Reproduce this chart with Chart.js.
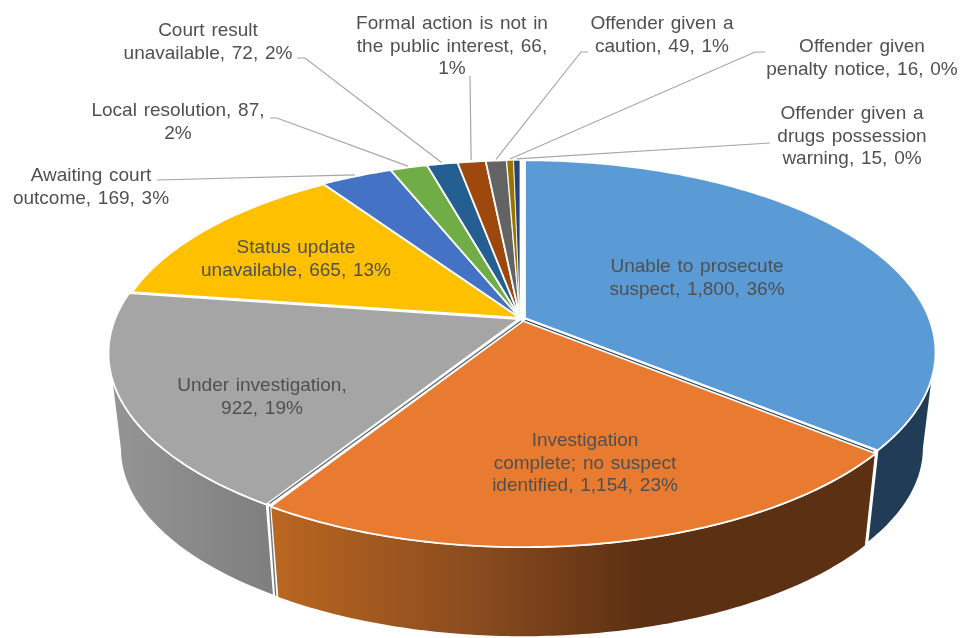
<!DOCTYPE html>
<html>
<head>
<meta charset="utf-8">
<style>
  html, body { margin: 0; padding: 0; background: #fff; }
  canvas { display: block; }
</style>
<script src="https://cdn.jsdelivr.net/npm/chart.js@4"></script>
</head>
<body>
<canvas id="outcomePie" width="962" height="638"></canvas>
<script>
const categories = [
  'Unable to prosecute suspect', 'Investigation complete; no suspect identified',
  'Under investigation', 'Status update unavailable', 'Awaiting court outcome',
  'Local resolution', 'Court result unavailable', 'Formal action is not in the public interest',
  'Offender given a caution', 'Offender given penalty notice', 'Offender given a drugs possession warning'
];
const values = [1800, 1154, 922, 665, 169, 87, 72, 66, 49, 16, 15];
const sliceColors = ['#5B9BD5', '#E97B30', '#A5A5A5', '#FFC000', '#4472C4', '#70AD47', '#255E91', '#9E480E', '#636363', '#997300', '#264478'];
const labelLines = [
  ['Unable to prosecute', 'suspect, 1,800, 36%'],
  ['Investigation', 'complete; no suspect', 'identified, 1,154, 23%'],
  ['Under investigation,', '922, 19%'],
  ['Status update', 'unavailable, 665, 13%'],
  ['Awaiting court', 'outcome, 169, 3%'],
  ['Local resolution, 87,', '2%'],
  ['Court result', 'unavailable, 72, 2%'],
  ['Formal action is not in', 'the public interest, 66,', '1%'],
  ['Offender given a', 'caution, 49, 1%'],
  ['Offender given', 'penalty notice, 16, 0%'],
  ['Offender given a', 'drugs possession', 'warning, 15, 0%']
];

// layout only: label centre x, first line y
const labelSpots = [[697, 267], [585, 441], [262, 386], [296, 248], [91, 176], [178, 111], [208, 31], [452, 24], [662, 24], [862, 47], [852, 114]];
// leader start points, polyline towards the rim (null = label sits on the slice)
const leaderStarts = [null, null, null, null, [[157, 180]], [[270, 118], [277, 118]], [[297, 58], [305, 58]], [[470, 76]], [[588, 52], [581, 52]], [[765, 52], [755, 52]], [[770, 143]]];
// each slice is pulled a little off the centre in the reference
const sliceShift = [[3, -1], [1, 2], [-3, 0], [-2, -1], [-2, -1], [-2, -1], [-2, -1], [-2, -1], [-2, -1], [-2, -1], [-2, -1]];
const sliceRadius = [0.99, 0.99, 0.99, 0.985, 0.99, 0.99, 0.99, 0.99, 0.99, 0.99, 0.99];

// perspective of the pie plane, measured on the reference
const view = { cx: 522, cy: 319, a: 408, b: 187.7, p: 0.18, vx: 520, vy: 3700, depth: 0.0285 };

function project(theta, r, shift) {
  const X = r * Math.sin(theta), Y = r * Math.cos(theta), w = 1 + view.p * Y;
  return [view.cx + shift[0] + view.a * X / w, view.cy + shift[1] - view.b * Y / w];
}
function drop(pt) {
  return [pt[0] + (view.vx - pt[0]) * view.depth, pt[1] + (view.vy - pt[1]) * view.depth];
}
function rimPoints(t0, t1, r, shift) {
  const steps = Math.max(2, Math.ceil((t1 - t0) * 80)), pts = [];
  for (let i = 0; i <= steps; i++) pts.push(project(t0 + (t1 - t0) * i / steps, r, shift));
  return pts;
}
function tracePath(ctx, pts) {
  pts.forEach((pt, i) => i ? ctx.lineTo(pt[0], pt[1]) : ctx.moveTo(pt[0], pt[1]));
}

function drawWall(ctx, t0, t1, r, shift, paint) {
  const top = rimPoints(t0, t1, r, shift);
  ctx.beginPath();
  tracePath(ctx, top);
  top.slice().reverse().map(drop).forEach(pt => ctx.lineTo(pt[0], pt[1]));
  ctx.closePath();
  ctx.fillStyle = paint;
  ctx.fill();
  ctx.strokeStyle = '#fff';
  ctx.lineWidth = 1.5;
  ctx.stroke();
}

function strokeLine(ctx, pts, color, width) {
  ctx.beginPath();
  tracePath(ctx, pts);
  ctx.strokeStyle = color;
  ctx.lineWidth = width;
  ctx.stroke();
}

const pie3d = {
  id: 'pie3d',
  beforeDatasetsDraw(chart) {
    const ctx = chart.ctx;
    const arcs = chart.getDatasetMeta(0).data;
    const angles = arcs.map(arc => [arc.startAngle + Math.PI / 2, arc.endAngle + Math.PI / 2]);

    // side walls, only the three big front slices show one
    const orange = ctx.createLinearGradient(272, 0, 870, 0);
    orange.addColorStop(0, '#BA6720');
    orange.addColorStop(0.365, '#86491E');
    orange.addColorStop(0.615, '#5C3012');
    orange.addColorStop(1, '#5C3012');
    const gray = ctx.createLinearGradient(110, 0, 268, 0);
    gray.addColorStop(0, '#959595');
    gray.addColorStop(1, '#7F7F7F');
    const rightLimit = Math.acos(-view.p), leftLimit = 2 * Math.PI - rightLimit;
    drawWall(ctx, rightLimit, angles[0][1], sliceRadius[0], sliceShift[0], '#203C56');
    drawWall(ctx, angles[1][0], angles[1][1], sliceRadius[1], sliceShift[1], orange);
    drawWall(ctx, angles[2][0], leftLimit, sliceRadius[2], sliceShift[2], gray);

    // top faces
    arcs.forEach((arc, i) => {
      const shift = sliceShift[i];
      const apex = project(0, 0, shift);
      const outline = [apex].concat(rimPoints(angles[i][0], angles[i][1], sliceRadius[i], shift));
      ctx.beginPath();
      tracePath(ctx, outline);
      ctx.closePath();
      ctx.fillStyle = arc.options.backgroundColor;
      ctx.fill();
      ctx.strokeStyle = '#fff';
      ctx.lineWidth = values[i] < 30 ? 0.8 : 1.8;
      ctx.stroke();
    });

    // cut faces seen through the gaps next to the orange slice
    const blueApex = project(0, 0, sliceShift[0]);
    const blueEnd = project(angles[0][1], sliceRadius[0], sliceShift[0]);
    strokeLine(ctx, [[blueApex[0], blueApex[1] + 2.2], [blueEnd[0] - 4, blueEnd[1] + 0.8]], '#2B3F52', 1.2);
    const grayApex = project(0, 0, sliceShift[2]);
    const grayStart = project(angles[2][0], sliceRadius[2], sliceShift[2]);
    strokeLine(ctx, [[grayApex[0] + 2, grayApex[1] + 2], [grayStart[0] + 3, grayStart[1] - 1]], '#5F6368', 1.2);
    const grayFoot = drop(grayStart);
    strokeLine(ctx, [[grayStart[0] + 3, grayStart[1] + 2], [grayFoot[0] + 2, grayFoot[1]]], '#6E7780', 1.4);
    return false;
  },
  afterDraw(chart) {
    const ctx = chart.ctx;
    const arcs = chart.getDatasetMeta(0).data;
    ctx.save();
    // leader lines
    leaderStarts.forEach((start, i) => {
      if (!start) return;
      const mid = (arcs[i].startAngle + arcs[i].endAngle) / 2 + Math.PI / 2;
      strokeLine(ctx, start.concat([project(mid, 1, sliceShift[i])]), '#A6A6A6', 1.2);
    });
    // labels
    ctx.font = '19px "Liberation Sans", Arial, sans-serif';
    ctx.wordSpacing = '1.5px';
    ctx.textAlign = 'center';
    ctx.textBaseline = 'middle';
    ctx.fillStyle = '#505050';
    labelLines.forEach((lines, i) => {
      lines.forEach((line, k) => {
        ctx.fillText(line, labelSpots[i][0], labelSpots[i][1] + k * 22.3);
      });
    });
    ctx.restore();
  }
};

new Chart(document.getElementById('outcomePie'), {
  type: 'pie',
  data: {
    labels: categories,
    datasets: [{ data: values, backgroundColor: sliceColors, borderWidth: 0 }]
  },
  options: {
    responsive: false,
    animation: false,
    plugins: { legend: { display: false }, tooltip: { enabled: false } }
  },
  plugins: [pie3d]
});
</script>
</body>
</html>
